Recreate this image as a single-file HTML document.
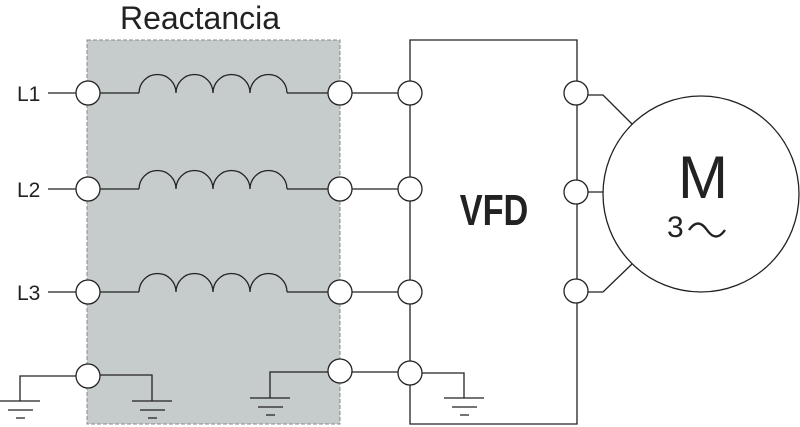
<!DOCTYPE html>
<html><head><style>body{margin:0;background:#fff}svg{display:block}</style></head><body>
<svg width="800" height="427" viewBox="0 0 800 427" xmlns="http://www.w3.org/2000/svg" font-family="Liberation Sans, sans-serif">
<rect x="87" y="40" width="253" height="384" fill="#c6cbcb" stroke="#888" stroke-dasharray="4,2" stroke-width="1"/>
<g stroke="#222" stroke-width="1.3" fill="none">
<path d="M410 40 V424 H577 V40 Z"/>
<path d="M588 95 H603 L632 124 M588 292 H603 L632 264 M588 192 H603"/>
<circle cx="701" cy="194" r="98" fill="#fff"/>
<path d="M48 93 H76 M100 93 H139 M287 93 H328 M352 93 H398"/>
<path d="M48 189 H76 M100 189 H139 M287 189 H328 M352 189 H398"/>
<path d="M48 292 H76 M100 292 H139 M287 292 H328 M352 292 H398"/>
<path d="M139 93 a18.5 18.5 0 0 1 37 0 a18.5 18.5 0 0 1 37 0 a18.5 18.5 0 0 1 37 0 a18.5 18.5 0 0 1 37 0"/>
<path d="M139 189 a18.5 18.5 0 0 1 37 0 a18.5 18.5 0 0 1 37 0 a18.5 18.5 0 0 1 37 0 a18.5 18.5 0 0 1 37 0"/>
<path d="M139 292 a18.5 18.5 0 0 1 37 0 a18.5 18.5 0 0 1 37 0 a18.5 18.5 0 0 1 37 0 a18.5 18.5 0 0 1 37 0"/>
<path d="M76 376 H20 V401 M100 375 H152 V401 M328 372 H270 V398 M352 372 H398 M422 373 H464 V398"/>
<path d="M0 401 H40 M8 410 H33 M16 418 H25"/>
<path d="M132 401 H172 M140 410 H165 M148 418 H157"/>
<path d="M250 398 H290 M258 407 H283 M266 415 H275"/>
<path d="M444 398 H484 M452 407 H477 M460 415 H469"/>
</g>
<g stroke="#222" stroke-width="1.3" fill="#fff">
<circle cx="88" cy="93" r="12"/><circle cx="340" cy="93" r="12"/><circle cx="410" cy="93" r="12"/>
<circle cx="88" cy="189" r="12"/><circle cx="340" cy="189" r="12"/><circle cx="410" cy="189" r="12"/>
<circle cx="88" cy="292" r="12"/><circle cx="340" cy="292" r="12"/><circle cx="410" cy="292" r="12"/>
<circle cx="88" cy="376" r="12"/><circle cx="340" cy="371" r="12"/><circle cx="410" cy="373" r="12"/>
<circle cx="576" cy="93" r="12"/><circle cx="576" cy="192" r="12"/><circle cx="576" cy="291" r="12"/>
</g>
<g fill="#222">
<text x="200" y="29" font-size="32" text-anchor="middle">Reactancia</text>
<text x="17" y="101" font-size="21">L1</text>
<text x="17" y="197" font-size="21">L2</text>
<text x="17" y="300" font-size="21">L3</text>
<text x="494" y="225" font-size="44" font-weight="bold" text-anchor="middle" transform="translate(494 0) scale(0.78 1) translate(-494 0)">VFD</text>
<text x="703" y="198" font-size="60" text-anchor="middle">M</text>
<text x="667" y="237" font-size="30">3</text>
</g>
<path d="M689 230 q9 -13 18 0 q9 13 18 0" stroke="#222" stroke-width="2.4" fill="none"/>
</svg>
</body></html>
